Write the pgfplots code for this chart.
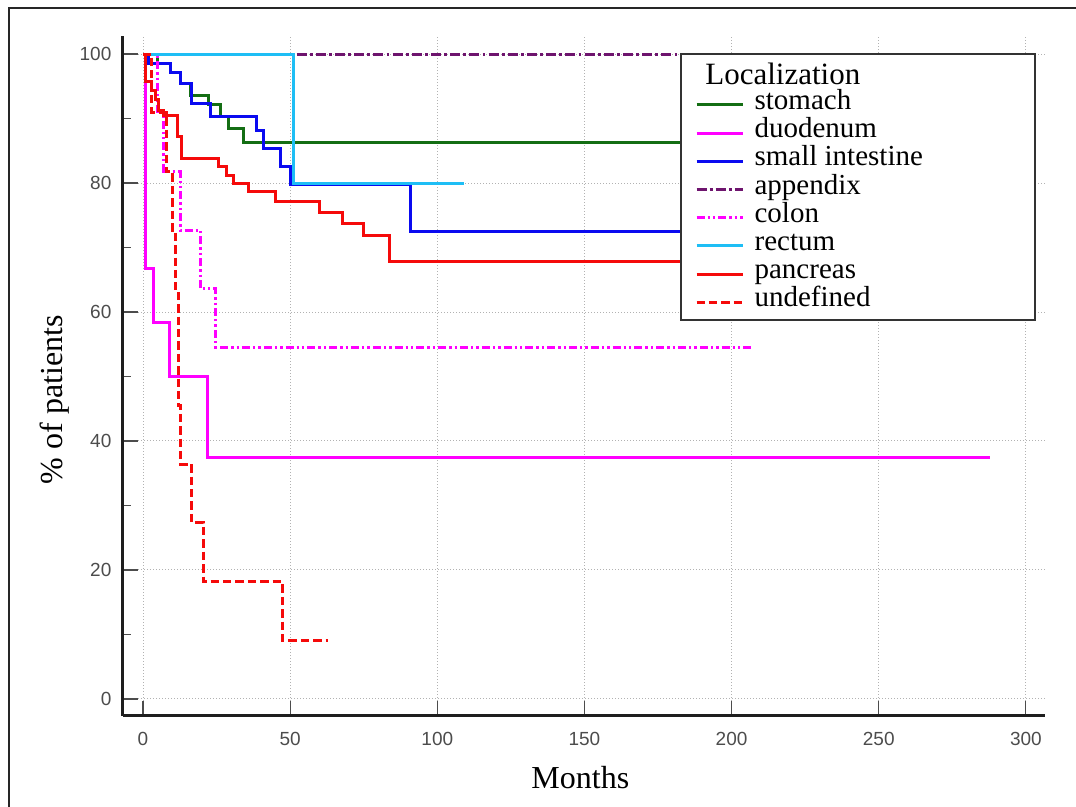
\documentclass[border=0pt]{standalone}
\usepackage{fontspec}
\setmainfont{Liberation Serif}
\newfontfamily\tickfont{Liberation Sans}
\usepackage{pgfplots}
\pgfplotsset{compat=1.18}

\definecolor{cStomach}{RGB}{20,110,20}
\definecolor{cDuo}{RGB}{255,0,255}
\definecolor{cSmall}{RGB}{10,10,240}
\definecolor{cApp}{RGB}{110,20,110}
\definecolor{cRect}{RGB}{30,190,245}
\definecolor{cPanc}{RGB}{245,10,10}
\definecolor{cAxis}{RGB}{30,30,30}

\begin{document}
\begin{tikzpicture}
\useasboundingbox (0,0) rectangle (538pt,403.5pt);
\draw[line width=1pt, black!85] (4.5pt,0) -- (4.5pt,399.5pt) -- (538pt,399.5pt);
\begin{axis}[
  at={(61.5pt,45.5pt)}, anchor=south west,
  scale only axis, width=461pt, height=340pt,
  xmin=-6.8, xmax=306.5, ymin=-2.64, ymax=102.8,
  axis x line=bottom, axis y line=left,
  axis line style={-, line width=1.5pt, cAxis},
  xtick={0,50,...,300}, ytick={0,20,...,100},
  minor ytick={10,30,...,90},
  tick align=inside,
  major tick length=7.5pt, minor tick length=4pt,
  every tick/.style={line width=0.6pt, black!70},
  grid=major,
  major grid style={line width=0.5pt, densely dotted, black!30},
  /pgf/number format/assume math mode=true,
  ticklabel style={font=\tickfont\fontsize{9.5}{10}\selectfont, text=black!70},
  yticklabel style={xshift=-2.3pt},
  xticklabel style={yshift=-4.8pt},
  xlabel={Months}, ylabel={\% of patients},
  label style={font=\fontsize{16}{18}\selectfont},
  xlabel style={at={(axis description cs:0.496,-0.09)}, anchor=center},
  ylabel style={at={(axis description cs:-0.074,0.465)}, anchor=center},
  legend style={draw=none, fill=none, at={(axis description cs:0.6204,0.9195)}, anchor=north west,
    inner sep=0pt, outer sep=0pt, row sep=0pt, column sep=5pt,
    font=\fontsize{14.5}{14.5}\selectfont,
    nodes={inner sep=0pt, text height=9.4pt, text depth=4.7pt}},
  legend cell align=left,
  legend image code/.code={\draw[#1] (0pt,0pt) -- (23.3pt,0pt);},
  every axis plot/.append style={line width=1.5pt, const plot},
]
% stomach
\addplot[cStomach] coordinates {(0,100)(4.8,98.6)(9.2,97.1)(12.6,95.5)(16,93.6)(22.2,92.1)(26.2,90.3)(29,88.5)(34.1,86.3)(200,86.3)};
\addlegendentry{stomach}
% duodenum
\addplot[cDuo] coordinates {(0,100)(1,66.7)(3.5,58.3)(8.9,50)(21.9,37.5)(287.8,37.5)};
\addlegendentry{duodenum}
% small intestine
\addplot[cSmall] coordinates {(0,100)(1.8,98.6)(9.2,97.1)(12.6,95.5)(16.5,92.4)(22.8,90.3)(38.6,88.2)(40.9,85.4)(46.6,82.5)(50,79.7)(90.9,72.5)(200,72.5)};
\addlegendentry{small intestine}
% appendix
\addplot[cApp, dash pattern=on 5pt off 1.6pt on 1.4pt off 1.6pt] coordinates {(0,100)(200,100)};
\addlegendentry{appendix}
% colon
\addplot[cDuo, dash pattern=on 4pt off 1.5pt on 1.2pt off 1.5pt on 1.2pt off 1.5pt] coordinates {(0,100)(5,90.9)(7,81.8)(12.6,72.7)(19.5,63.6)(24.8,54.5)(207,54.5)};
\addlegendentry{colon}
% rectum
\addplot[cRect] coordinates {(0,100)(51,80)(109,80)};
\addlegendentry{rectum}
% pancreas
\addplot[cPanc] coordinates {(0,100)(0.7,95.7)(2.9,94.4)(4.1,92.9)(5.2,91.3)(6.9,90.5)(11.7,87.2)(13.1,83.8)(25.6,82.5)(28.4,81.2)(30.7,79.9)(35.8,78.7)(44.9,77.1)(60,75.4)(67.8,73.7)(74.9,71.8)(83.9,67.8)(200,67.8)};
\addlegendentry{pancreas}
% undefined
\addplot[cPanc, dash pattern=on 4.2pt off 2pt] coordinates {(0,100)(3,90.9)(8,81.8)(10,72.7)(10.9,63.6)(11.9,45.5)(12.6,36.4)(16.5,27.3)(20.5,18.2)(47.3,9.1)(63,9.1)};
\addlegendentry{undefined}
% legend frame and title
\draw[line width=1.3pt, draw=black!80, fill=white] (axis description cs:0.6052,0.9735) rectangle (axis description cs:0.9892,0.5824);
\node[anchor=base west, font=\fontsize{15.5}{16}\selectfont, inner sep=0pt] at (axis description cs:0.6312,0.9290) {Localization};
\end{axis}
\end{tikzpicture}
\end{document}
